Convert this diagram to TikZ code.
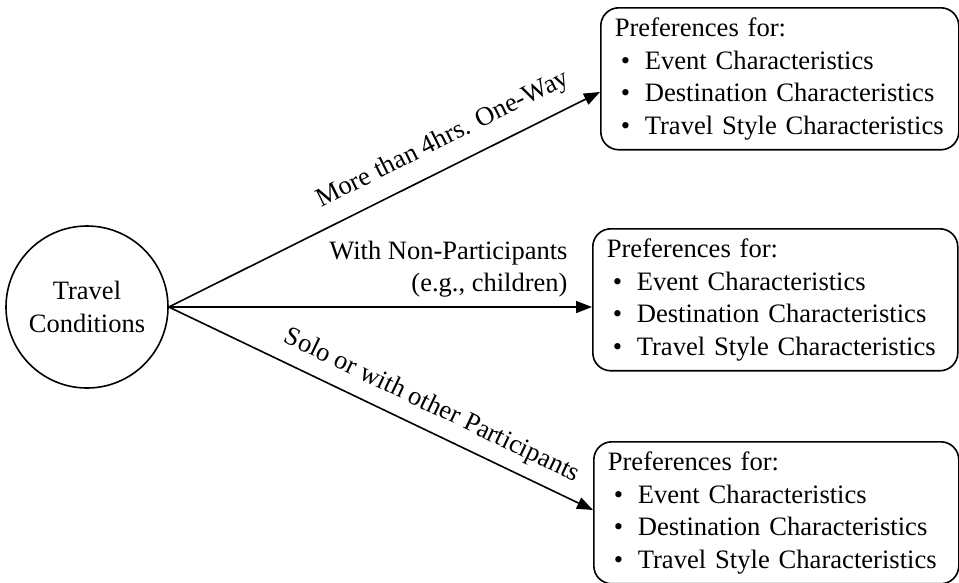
\documentclass[tikz,border=0pt]{standalone}
\usepackage{fontspec}
\setmainfont{Liberation Serif}
\usetikzlibrary{arrows.meta}
\hyphenpenalty=10000
\newcommand\prefbul{\makebox[30pt][l]{\hspace{6pt}\textbullet}}
\begin{document}
\begin{tikzpicture}[x=1pt,y=1pt,
  prefbox/.style={draw, line width=1.6pt, rounded corners=18pt, anchor=north west, align=left, inner xsep=14pt, inner ysep=10pt, font=\fontsize{26.6}{32.5}\selectfont},
  cond/.style={draw, circle, line width=1.6pt, minimum size=162pt, inner sep=0pt, align=center, font=\fontsize{26.5}{33}\selectfont},
  lbl/.style={font=\fontsize{26.5}{32}\selectfont},
  conn/.style={line width=1.6pt, -{Triangle[length=16pt,width=12pt]}}]
\useasboundingbox (0,0) rectangle (959,-582);
\node[cond] (c) at (87,-307) {Travel\\Conditions};
\node[prefbox, text width=330pt] (b1) at (600,-7) {Preferences for:\\\prefbul Event Characteristics\\\prefbul Destination Characteristics\\\prefbul Travel Style Characteristics};
\node[prefbox, text width=337pt] (b2) at (592,-228) {Preferences for:\\\prefbul Event Characteristics\\\prefbul Destination Characteristics\\\prefbul Travel Style Characteristics};
\node[prefbox, text width=337pt] (b3) at (593,-441) {Preferences for:\\\prefbul Event Characteristics\\\prefbul Destination Characteristics\\\prefbul Travel Style Characteristics};
\draw[conn] (c.east) -- (b1.west |- 0,-92) node[lbl, sloped, above=11pt, pos=0.665] (l1) {More than 4hrs. One-Way};
\draw[conn] (c.east) -- (b2.west |- c.east);
\node[lbl, align=right, anchor=south east] (l2) at (571,-301) {With Non-Participants\\(e.g., children)};
\draw[conn] (c.east) -- (b3.west |- 0,-510) node[lbl, sloped, above=8pt, pos=0.595] (l3) {Solo or with other Participants};
\end{tikzpicture}
\end{document}
